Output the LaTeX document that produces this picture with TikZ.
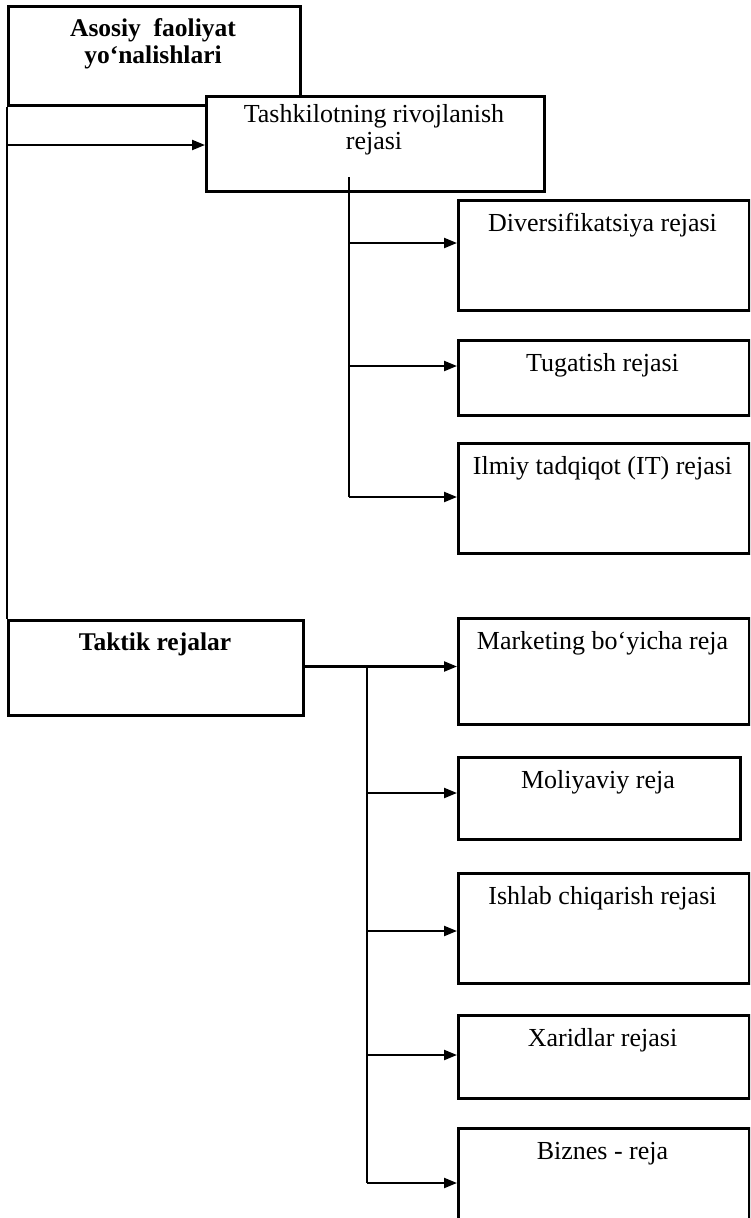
\documentclass[tikz,border=0pt]{standalone}
\usepackage{fontspec}
\setmainfont{Liberation Serif}
\usetikzlibrary{arrows.meta}
\begin{document}
\begin{tikzpicture}[x=1pt,y=-1pt,
  box/.style={draw, line width=2.6pt, fill=white, inner sep=0pt, anchor=north west},
  lbl/.style={font=\fontsize{26}{27}\selectfont, inner sep=0pt, anchor=base, align=center},
  conn/.style={line width=2.2pt},
  arr/.style={conn, -{Triangle[length=13pt,width=10pt]}}]
\useasboundingbox (0,0) rectangle (750,1218);
\clip (0,0) rectangle (750,1218);
% boxes
\node[box, minimum width=292pt, minimum height=99pt] (A) at (7,5) {};
\node[box, minimum width=338pt, minimum height=95pt] (B) at (205,95) {};
\node[box, minimum width=291pt, minimum height=110pt] (D1) at (457,199) {};
\node[box, minimum width=291pt, minimum height=75pt] (D2) at (457,339) {};
\node[box, minimum width=291pt, minimum height=110pt] (D3) at (457,442) {};
\node[box, minimum width=295pt, minimum height=95pt] (T) at (7,619) {};
\node[box, minimum width=291pt, minimum height=106pt] (M1) at (457,617) {};
\node[box, minimum width=282pt, minimum height=82pt] (M2) at (457,756) {};
\node[box, minimum width=291pt, minimum height=110pt] (M3) at (457,872) {};
\node[box, minimum width=291pt, minimum height=83pt] (M4) at (457,1014) {};
\node[box, minimum width=291pt, minimum height=120pt] (M5) at (457,1127) {};
% texts
\node[lbl, font=\fontsize{25.5}{27}\selectfont\bfseries] (tA) at (153,63) {Asosiy\hspace{0.5em}faoliyat\\yo‘nalishlari};
\node[lbl] (tB) at (374,149) {Tashkilotning rivojlanish\\rejasi};
\node[lbl] (tD1) at (602.5,231) {Diversifikatsiya rejasi};
\node[lbl] (tD2) at (602.5,371) {Tugatish rejasi};
\node[lbl] (tD3) at (602.5,474) {Ilmiy tadqiqot (IT) rejasi};
\node[lbl, font=\fontsize{25.5}{27}\selectfont\bfseries] (tT) at (155,650) {Taktik rejalar};
\node[lbl] (tM1) at (602.5,649) {Marketing bo‘yicha reja};
\node[lbl] (tM2) at (598,788) {Moliyaviy reja};
\node[lbl] (tM3) at (602.5,904) {Ishlab chiqarish rejasi};
\node[lbl] (tM4) at (602.5,1046) {Xaridlar rejasi};
\node[lbl] (tM5) at (602.5,1159) {Biznes - reja};
% connectors
\draw[conn] (A.south west) -- (T.north west);
\coordinate (j0) at (7,145);
\draw[arr] (j0) -- (j0 -| B.west);
\coordinate (v1t) at (349,177);
\coordinate (v1b) at (349,497);
\draw[conn] (v1t) -- (v1b);
\coordinate (b1) at (349,243);
\coordinate (b2) at (349,366);
\draw[arr] (b1) -- (b1 -| D1.west);
\draw[arr] (b2) -- (b2 -| D2.west);
\draw[arr] (v1b) -- (v1b -| D3.west);
\coordinate (v2t) at (367,666.5);
\coordinate (v2b) at (367,1183);
\draw[conn] (v2t -| T.east) -- (v2t) -- (v2b);
\coordinate (c2) at (367,793);
\coordinate (c3) at (367,931);
\coordinate (c4) at (367,1055);
\draw[arr] (v2t) -- (v2t -| M1.west);
\draw[arr] (c2) -- (c2 -| M2.west);
\draw[arr] (c3) -- (c3 -| M3.west);
\draw[arr] (c4) -- (c4 -| M4.west);
\draw[arr] (v2b) -- (v2b -| M5.west);
\end{tikzpicture}
\end{document}
